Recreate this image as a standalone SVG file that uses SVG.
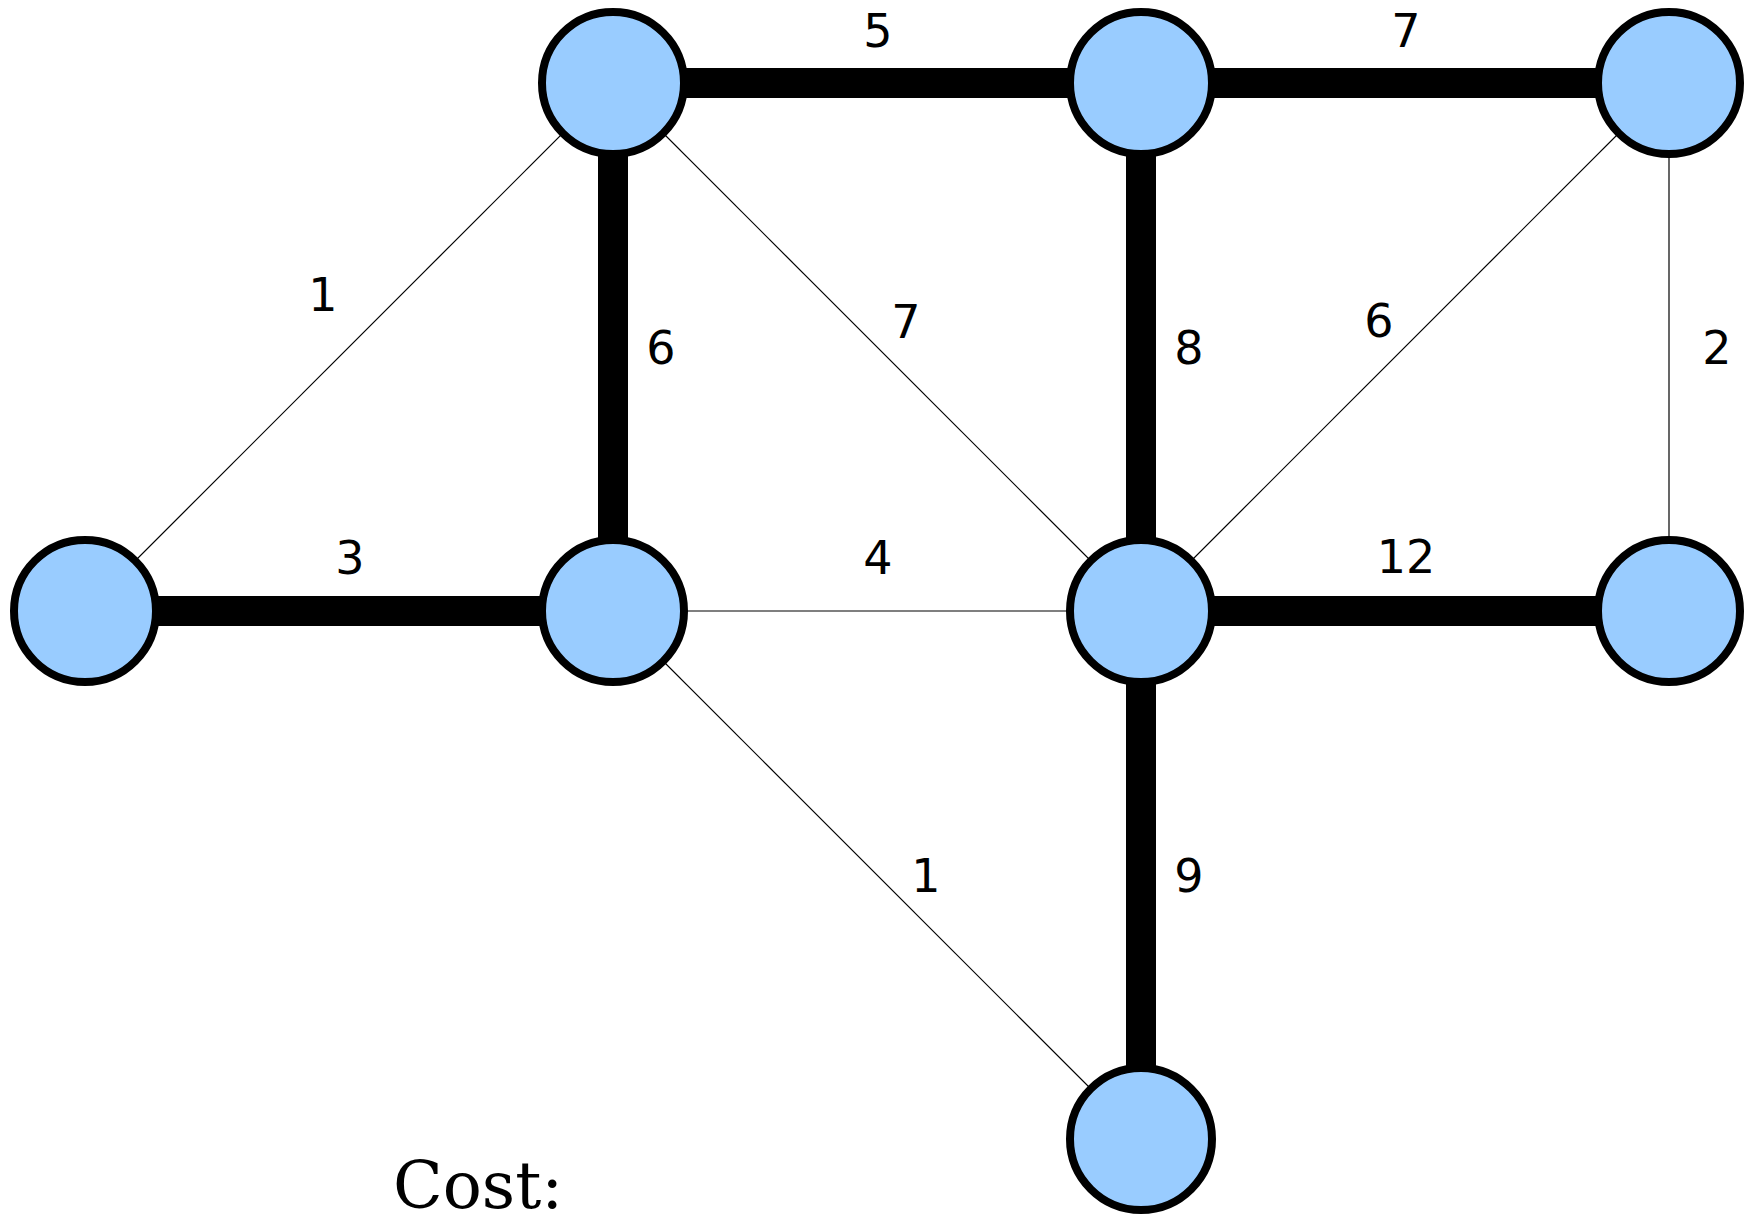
<svg xmlns="http://www.w3.org/2000/svg" width="1752" height="1214" viewBox="0 0 1752 1214">
<style>
.thick{stroke:#000;stroke-width:30;fill:none}
.thin{stroke:#000;stroke-width:1.2;fill:none}
.node{fill:#99ccff;stroke:#000;stroke-width:8}
.lbl{font-family:"DejaVu Sans",sans-serif;font-size:46px;fill:#000;text-anchor:middle}
.cost{font-family:"DejaVu Serif",serif;font-size:65px;fill:#000}
</style>
<rect width="1752" height="1214" fill="#fff"/>
<g id="connectors">
<line class="thin" x1="613" y1="83" x2="85" y2="611"/>
<line class="thin" x1="613" y1="83" x2="1141" y2="611"/>
<line class="thin" x1="1669" y1="83" x2="1141" y2="611"/>
<line class="thin" x1="1669" y1="83" x2="1669" y2="611"/>
<line class="thin" x1="613" y1="611" x2="1141" y2="611"/>
<line class="thin" x1="613" y1="611" x2="1141" y2="1139"/>
<line class="thick" x1="613" y1="83" x2="1141" y2="83"/>
<line class="thick" x1="1141" y1="83" x2="1669" y2="83"/>
<line class="thick" x1="613" y1="83" x2="613" y2="611"/>
<line class="thick" x1="1141" y1="83" x2="1141" y2="611"/>
<line class="thick" x1="85" y1="611" x2="613" y2="611"/>
<line class="thick" x1="1141" y1="611" x2="1669" y2="611"/>
<line class="thick" x1="1141" y1="611" x2="1141" y2="1139"/>
</g>
<g id="labels">
<text class="lbl" x="878" y="47">5</text>
<text class="lbl" x="1406" y="47">7</text>
<text class="lbl" x="323" y="311">1</text>
<text class="lbl" x="661" y="364">6</text>
<text class="lbl" x="906" y="338">7</text>
<text class="lbl" x="1189" y="364">8</text>
<text class="lbl" x="1379" y="337">6</text>
<text class="lbl" x="1717" y="364">2</text>
<text class="lbl" x="350" y="574">3</text>
<text class="lbl" x="878" y="574">4</text>
<text class="lbl" x="1406" y="573">12</text>
<text class="lbl" x="926" y="892">1</text>
<text class="lbl" x="1189" y="892">9</text>
</g>
<g id="n1"><circle class="node" cx="613" cy="83" r="71"/></g>
<g id="n2"><circle class="node" cx="1141" cy="83" r="71"/></g>
<g id="n3"><circle class="node" cx="1669" cy="83" r="71"/></g>
<g id="n4"><circle class="node" cx="85" cy="611" r="71"/></g>
<g id="n5"><circle class="node" cx="613" cy="611" r="71"/></g>
<g id="n6"><circle class="node" cx="1141" cy="611" r="71"/></g>
<g id="n7"><circle class="node" cx="1669" cy="611" r="71"/></g>
<g id="n8"><circle class="node" cx="1141" cy="1139" r="71"/></g>
<text class="cost" x="393" y="1208">Cost:</text>
</svg>
